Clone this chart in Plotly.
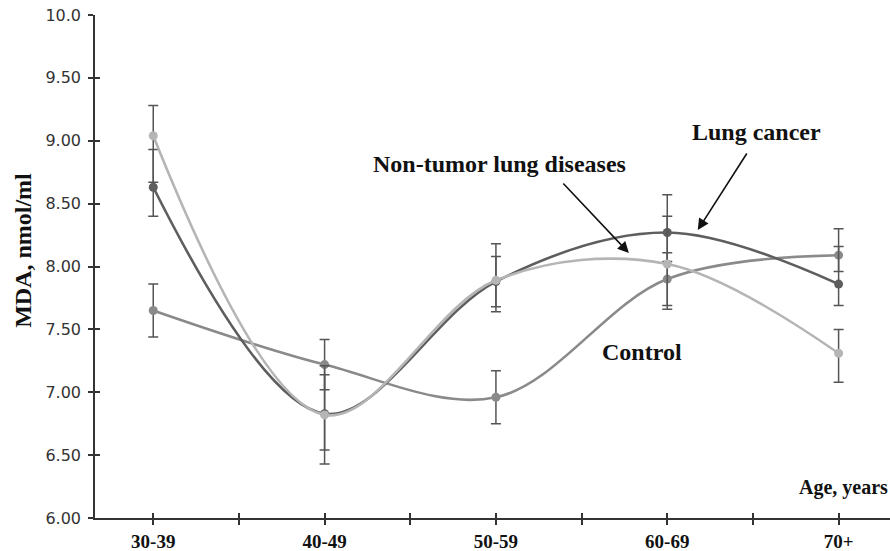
import plotly.graph_objects as go

categories = ["30-39", "40-49", "50-59", "60-69", "70+"]

control = [7.65, 7.22, 6.96, 7.90, 8.09]
control_err_up = [0.21, 0.20, 0.21, 0.21, 0.21]
control_err_dn = [0.21, 0.20, 0.21, 0.21, 0.13]

lung_cancer = [8.63, 6.83, 7.88, 8.27, 7.86]
lung_err_up = [0.30, 0.31, 0.20, 0.30, 0.30]
lung_err_dn = [0.23, 0.29, 0.20, 0.23, 0.17]

non_tumor = [9.04, 6.82, 7.89, 8.02, 7.31]
nt_err_up = [0.24, 0.39, 0.29, 0.38, 0.19]
nt_err_dn = [0.37, 0.39, 0.25, 0.36, 0.23]

y_ticks = [6.0, 6.5, 7.0, 7.5, 8.0, 8.5, 9.0, 9.5, 10.0]
y_tick_text = ["6.00", "6.50", "7.00", "7.50", "8.00", "8.50", "9.00", "9.50", "10.0"]

xs = list(range(len(categories)))
x_tickvals = [i * 0.5 for i in range(2 * len(categories) - 1)]
x_ticktext = [categories[int(v)] if v == int(v) else "" for v in x_tickvals]

SERIF = "Liberation Serif, Times New Roman, serif"
ERR_COLOR = "#555555"


def series(y, up, dn, color, name):
    return go.Scatter(
        x=xs, y=y, name=name, mode="lines+markers",
        line=dict(color=color, width=2.6, shape="spline", smoothing=1.0),
        marker=dict(color=color, size=9),
        error_y=dict(type="data", symmetric=False, array=up, arrayminus=dn,
                     color=ERR_COLOR, thickness=1.5, width=5),
        showlegend=False,
    )


fig = go.Figure()
fig.add_trace(series(control, control_err_up, control_err_dn, "#8a8a8a", "Control"))
fig.add_trace(series(lung_cancer, lung_err_up, lung_err_dn, "#5e5e5e", "Lung cancer"))
fig.add_trace(series(non_tumor, nt_err_up, nt_err_dn, "#b5b5b5", "Non-tumor lung diseases"))
# empty trace to activate overlay axes (inside half of crossing ticks)
fig.add_trace(go.Scatter(x=[], y=[], xaxis="x2", yaxis="y2", showlegend=False))

x_range = [-0.34, 4.3]
y_range = [6.0, 10.0]

fig.update_layout(
    width=890, height=551,
    margin=dict(l=95, r=0, t=15, b=33),
    paper_bgcolor="white", plot_bgcolor="white",
    xaxis=dict(range=x_range, tickmode="array", tickvals=x_tickvals, ticktext=x_ticktext,
               showgrid=False, zeroline=False, showline=True, linecolor="#333333", linewidth=1.5,
               ticks="outside", ticklen=5, tickcolor="#333333", tickwidth=1.5,
               tickfont=dict(family=SERIF, size=19, color="#111111", weight="bold")),
    yaxis=dict(range=y_range, tickmode="array", tickvals=y_ticks, ticktext=y_tick_text,
               showgrid=False, zeroline=False, showline=True, linecolor="#333333", linewidth=1.5,
               ticks="outside", ticklen=5, tickcolor="#333333", tickwidth=1.5,
               ticklabelstandoff=4,
               tickfont=dict(family="DejaVu Sans", size=16, color="#333333")),
    xaxis2=dict(range=x_range, overlaying="x", anchor="y", tickmode="array", tickvals=x_tickvals,
                showticklabels=False, showgrid=False, zeroline=False, showline=False,
                ticks="inside", ticklen=5, tickcolor="#333333", tickwidth=1.5),
    yaxis2=dict(range=y_range, overlaying="y", anchor="x", side="left", tickmode="array",
                tickvals=y_ticks, showticklabels=False, showgrid=False, zeroline=False,
                showline=False, ticks="inside", ticklen=5, tickcolor="#333333", tickwidth=1.5),
)

ann_font = dict(family=SERIF, size=24, color="#111111", weight="bold")
fig.add_annotation(x=3.52, y=9.07, text="Lung cancer", showarrow=False, font=ann_font)
fig.add_annotation(x=2.02, y=8.815, text="Non-tumor lung diseases", showarrow=False, font=ann_font)
fig.add_annotation(x=2.85, y=7.32, text="Control", showarrow=False, font=ann_font)

arrow = dict(showarrow=True, arrowhead=2, arrowsize=1.4, arrowwidth=1.6, arrowcolor="#111111", text="")
fig.add_annotation(x=2.776, y=8.107, ax=-67, ay=-71, **arrow)
fig.add_annotation(x=3.178, y=8.29, ax=50, ay=-78, **arrow)

fig.add_annotation(xref="paper", yref="paper", x=1.0, y=0.06, xanchor="right", yanchor="middle",
                   text="Age, years", showarrow=False,
                   font=dict(family=SERIF, size=20, color="#111111", weight="bold"))
fig.add_annotation(xref="paper", yref="paper", x=-0.0906, y=0.533, xanchor="center", yanchor="middle",
                   text="MDA, nmol/ml", textangle=-90, showarrow=False,
                   font=dict(family=SERIF, size=24, color="#111111", weight="bold"))

fig.write_html("out.html", config={"displayModeBar": False},
               post_script="document.body.style.margin='0px';")
